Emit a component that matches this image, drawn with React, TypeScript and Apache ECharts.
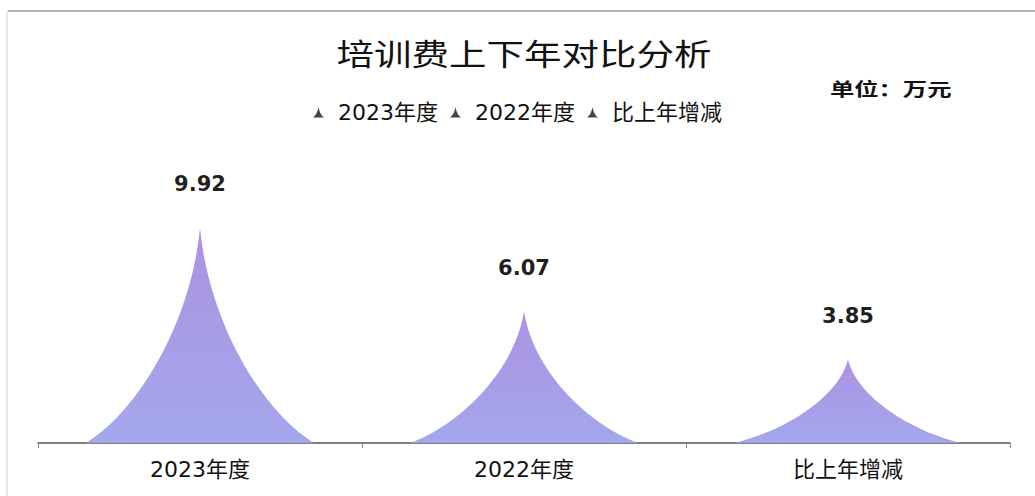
import React, { useEffect, useRef } from "react";
import * as echarts from "echarts";

const categories = ["2023年度", "2022年度", "比上年增减"];
const values = [9.92, 6.07, 3.85];
const titleText = "培训费上下年对比分析";
const unitText = "单位：万元";

const SPIKE = "path://M0,10 L10,10 C7.8,8.6 5.4,4.5 5,0 C4.6,4.5 2.2,8.6 0,10 z";
const FONT = "'DejaVu Sans', 'Noto Sans CJK SC', sans-serif";
const CJK = "'Noto Sans CJK SC', sans-serif";

export default function App() {
  const ref = useRef<HTMLDivElement>(null);
  useEffect(() => {
    document.body.style.margin = "0";
    const chart = echarts.init(ref.current!, undefined, { renderer: "svg" });
    const gradient = new echarts.graphic.LinearGradient(0, 0, 0, 1, [
      { offset: 0, color: "#a88ce2" },
      { offset: 1, color: "#9ea3ea" },
    ]);
    const series = categories.map((name, i) => ({
      name,
      type: "pictorialBar",
      symbol: SPIKE,
      barWidth: 228,
      barGap: "-100%",
      itemStyle: { color: gradient, opacity: 0.95 },
      label: {
        show: true,
        position: "top",
        distance: 33,
        fontSize: 21,
        fontWeight: "bold",
        color: "#111",
        fontFamily: FONT,
      },
      data: values.map((v, j) => (j === i ? v : "-")),
    }));
    chart.setOption({
      animation: false,
      backgroundColor: "#ffffff",
      legend: {
        data: categories.map((name) => ({ name, icon: SPIKE, itemStyle: { color: "#3a3a3a" } })),
        top: 96,
        left: "center",
        itemWidth: 13,
        itemHeight: 11,
        itemGap: 12,
        textStyle: { fontSize: 22, color: "#111", fontFamily: FONT, padding: [0, 0, 0, 8] },
      },
      grid: { left: 38, right: 25, top: 226, bottom: 53, containLabel: false },
      xAxis: {
        type: "category",
        data: categories,
        axisLine: { lineStyle: { color: "#555", width: 1.5 } },
        axisTick: { show: true, lineStyle: { color: "#888" } },
        axisLabel: { fontSize: 22, color: "#111", margin: 15, fontFamily: FONT },
      },
      yAxis: {
        type: "value",
        min: 0,
        max: 10,
        show: false,
        splitLine: { show: false },
      },
      graphic: [
        { type: "line", shape: { x1: 8, y1: 11, x2: 1035, y2: 11 }, style: { stroke: "#9a9a9a", lineWidth: 1.5 } },
        { type: "line", shape: { x1: 7, y1: 11, x2: 7, y2: 496 }, style: { stroke: "#d0d0d0", lineWidth: 1 } },
        {
          type: "text",
          x: 524,
          y: 52,
          scaleX: 1.25,
          style: {
            text: titleText,
            fontSize: 30,
            fill: "#111",
            fontFamily: CJK,
            align: "center",
            verticalAlign: "middle",
          },
        },
        {
          type: "text",
          x: 830,
          y: 88,
          scaleX: 1.35,
          style: {
            text: unitText,
            fontSize: 18,
            fontWeight: "bold",
            fill: "#111",
            fontFamily: CJK,
            align: "left",
            verticalAlign: "middle",
          },
        },
      ],
      series,
    });
    return () => chart.dispose();
  }, []);
  return <div ref={ref} style={{ width: 1035, height: 496 }} />;
}
